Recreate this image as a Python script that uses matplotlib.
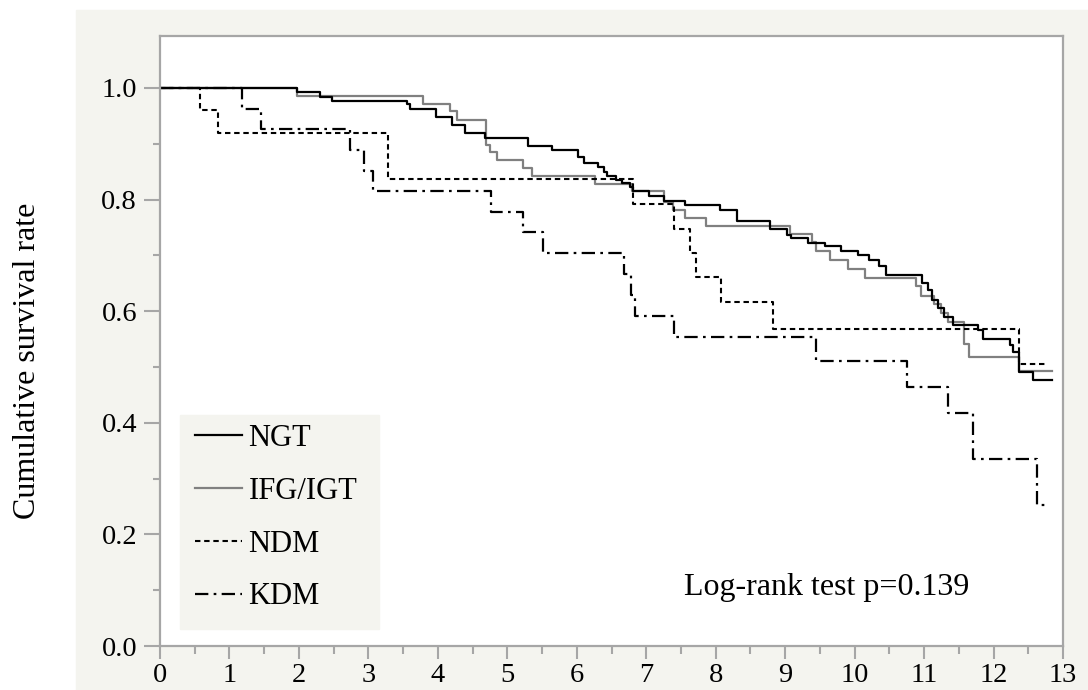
import matplotlib
matplotlib.use("Agg")
import matplotlib.pyplot as plt
from matplotlib.patches import Rectangle
from matplotlib.ticker import MultipleLocator

# survival curves (time in years, survival fraction)
ngt_t = [0, 1.97, 2.30, 2.47, 3.56, 3.60, 3.97, 4.20, 4.39, 4.68, 5.30, 5.65,
         6.02, 6.10, 6.31, 6.39, 6.43, 6.57, 6.65, 6.77, 6.81, 7.04, 7.25, 7.56,
         8.06, 8.30, 8.78, 9.02, 9.08, 9.33, 9.57, 9.81, 10.05, 10.20, 10.35,
         10.45, 10.97, 11.05, 11.12, 11.20, 11.28, 11.42, 11.78, 11.85, 12.24,
         12.28, 12.36, 12.57, 12.84]
ngt_s = [1.0, 0.992, 0.984, 0.977, 0.972, 0.962, 0.947, 0.934, 0.919, 0.911,
         0.896, 0.888, 0.877, 0.866, 0.859, 0.850, 0.842, 0.835, 0.829, 0.823,
         0.815, 0.806, 0.797, 0.790, 0.782, 0.762, 0.747, 0.737, 0.731, 0.722,
         0.716, 0.707, 0.700, 0.692, 0.680, 0.665, 0.650, 0.637, 0.620, 0.605,
         0.590, 0.575, 0.566, 0.550, 0.540, 0.527, 0.491, 0.477, 0.477]

ifg_t = [0, 1.97, 3.78, 4.18, 4.27, 4.70, 4.75, 4.85, 5.22, 5.35, 6.26, 6.79,
         7.25, 7.39, 7.56, 7.86, 9.07, 9.38, 9.45, 9.65, 9.91, 10.15, 10.88,
         10.95, 11.15, 11.25, 11.35, 11.57, 11.64, 12.36, 12.84]
ifg_s = [1.0, 0.986, 0.972, 0.958, 0.943, 0.898, 0.886, 0.871, 0.856, 0.842,
         0.828, 0.815, 0.796, 0.782, 0.766, 0.753, 0.738, 0.723, 0.707, 0.692,
         0.675, 0.660, 0.645, 0.628, 0.612, 0.596, 0.581, 0.542, 0.517, 0.493,
         0.493]

ndm_t = [0, 0.58, 0.83, 3.28, 6.81, 7.40, 7.63, 7.72, 8.07, 8.82, 12.36, 12.77]
ndm_s = [1.0, 0.960, 0.920, 0.837, 0.792, 0.748, 0.705, 0.661, 0.616, 0.568,
         0.505, 0.505]

kdm_t = [0, 1.18, 1.46, 2.74, 2.93, 3.07, 4.76, 5.22, 5.52, 6.68, 6.78, 6.84,
         7.40, 9.44, 10.76, 11.34, 11.71, 12.62, 12.77]
kdm_s = [1.0, 0.963, 0.926, 0.889, 0.852, 0.815, 0.778, 0.741, 0.704, 0.667,
         0.629, 0.592, 0.553, 0.511, 0.464, 0.417, 0.335, 0.253, 0.253]

labels = ["NGT", "IFG/IGT", "NDM", "KDM"]
note = "Log-rank test p=0.139"

plt.rcParams['font.family'] = ['Liberation Serif', 'DejaVu Serif']
bg = '#f4f4ef'
axcol = '#a6a6a6'

fig = plt.figure(figsize=(10.88, 6.90), dpi=100)
fig.patch.set_facecolor('white')
fig.patches.append(Rectangle((76 / 1088, 0), 1, (690 - 10) / 690,
                             transform=fig.transFigure, color=bg, zorder=-10))

ax = fig.add_axes([160 / 1088, 44 / 690, 903 / 1088, 610 / 690])
ax.set_facecolor('white')

ax.step(ifg_t, ifg_s, where='post', color='#808080', lw=1.6, label=labels[1])
ax.step(ngt_t, ngt_s, where='post', color='black', lw=1.6, label=labels[0])
ax.step(ndm_t, ndm_s, where='post', color='black', lw=1.5,
        dashes=(2.6, 1.8), label=labels[2])
ax.step(kdm_t, kdm_s, where='post', color='black', lw=1.6,
        dashes=(6, 2.4, 1.2, 2.4), label=labels[3])

ax.set_xlim(0, 13)
ax.set_ylim(0, 1.093)
ax.xaxis.set_major_locator(MultipleLocator(1))
ax.xaxis.set_minor_locator(MultipleLocator(0.5))
ax.set_yticks([0, 0.2, 0.4, 0.6, 0.8, 1.0])
ax.yaxis.set_minor_locator(MultipleLocator(0.1))
ax.set_yticklabels(['0.0', '0.2', '0.4', '0.6', '0.8', '1.0'])

for sp in ax.spines.values():
    sp.set_color(axcol)
    sp.set_linewidth(1.6)
ax.tick_params(axis='y', which='major', length=11.5, width=1.5, color=axcol,
               labelsize=20.5, pad=5)
ax.tick_params(axis='y', which='minor', length=5, width=1.5, color=axcol)
ax.tick_params(axis='x', which='major', length=9.5, width=1.5, color=axcol,
               labelsize=20.5, pad=3)
ax.tick_params(axis='x', which='minor', length=5.5, width=1.5, color=axcol)

fig.text(28 / 1088, 1 - 361 / 690, "Cumulative survival rate", rotation=90,
         ha='center', va='center', fontsize=23)

ax.text(7.55, 0.104, note, fontsize=23, va='center', ha='left')

# legend: beige box drawn behind a frameless legend
ax.add_patch(Rectangle((20 / 903, 17 / 610), 199 / 903, 214 / 610,
                       transform=ax.transAxes, color=bg, zorder=5))
h, l = ax.get_legend_handles_labels()
order = [1, 0, 2, 3]
leg = ax.legend([h[i] for i in order], [l[i] for i in order],
                loc='upper left', bbox_to_anchor=(35 / 903, 222 / 610),
                borderaxespad=0, frameon=False, fontsize=22,
                handlelength=1.55, handletextpad=0.2,
                labelspacing=0.78, borderpad=0)
leg.set_zorder(6)

fig.savefig('out.png', dpi=100, facecolor=fig.get_facecolor())
